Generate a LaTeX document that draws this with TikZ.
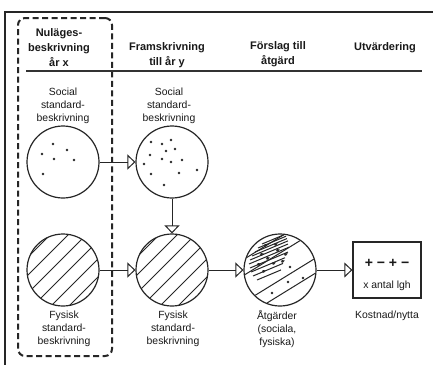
\documentclass[tikz,border=0pt]{standalone}
\usepackage{fontspec}
\setmainfont{Liberation Sans}
\usetikzlibrary{arrows.meta,calc}

\tikzset{
  frameline/.style={line width=1.4pt, draw=black!85},
  rule/.style={line width=1.1pt, draw=black!80},
  groupbox/.style={draw=black!85, line width=2pt, dash pattern=on 6pt off 3.5pt,
    rounded corners=7pt, minimum width=94pt, minimum height=338pt, inner sep=0pt},
  disc/.style={circle, draw=black!85, line width=1.2pt, minimum size=72pt, inner sep=0pt},
  hatched/.style={path picture={
    \foreach \k in {-45,-36,...,45} {
      \draw[line width=0.9pt, black!85]
        ($(path picture bounding box.center)+(\k+3,\k+3)+(-60,60)$) -- ++(120,-120);
    }}},
  conn/.style={line width=1pt, draw=black!85,
    -{Triangle[open, length=8pt, width=15pt, line width=1pt]}},
  costbox/.style={draw=black!85, line width=1.3pt, minimum width=68pt, minimum height=56pt, inner sep=0pt},
  head/.style={align=center, font=\bfseries\fontsize{11}{15}\selectfont, text=black!90},
  label/.style={align=center, font=\fontsize{10.4}{13}\selectfont, text=black!90},
  dot/.style={fill=black!85},
  stroke/.style={line width=1pt, draw=black!85},
  flow/.style={line width=0.9pt, draw=black!85, -{Latex[length=3.2pt, width=3.4pt]}},
}

\begin{document}
\begin{tikzpicture}[x=1pt, y=-1pt]
  \useasboundingbox[fill=white] (0,0) rectangle (433,365);

  % outer frame (top and left edges)
  \draw[frameline] (433,12) -- (5,12) -- (5,365);

  % dashed group around the first column
  \node[groupbox] (cur) at (65,187) {};

  % column headings
  \node[head] (h1) at (59,48) {Nuläges-\\beskrivning\\år x};
  \node[head] (h2) at (167,55) {Framskrivning\\till år y};
  \node[head] (h3) at (278,54.5) {Förslag till\\åtgärd};
  \node[head] (h4) at (385,48) {Utvärdering};
  \coordinate (rl) at (26,71);
  \coordinate (rr) at (422,71);
  \draw[rule] (rl) -- (rr);

  % social description
  \node[label] (ls1) at (63,106) {Social\\standard-\\beskrivning};
  \node[label] (ls2) at (169,106) {Social\\standard-\\beskrivning};
  \node[disc] (s1) at (63,162) {};
  \node[disc] (s2) at (172,162) {};

  \foreach \p in {(53,144),(67,150),(42,154),(54,159),(74,160),(43,174)}
    \fill[dot] \p circle (1.3pt);
  \foreach \p in {(151,142),(162,144),(171,140),(166,151),(175,149),(150,155),
                  (162,159),(171,162),(182,160),(144,164),(151,174),(179,173),
                  (197,170),(164,185)}
    \fill[dot] \p circle (1.3pt);

  % physical description
  \node[disc, hatched] (f1) at (63,270) {};
  \node[disc, hatched] (f2) at (172,270) {};
  \node[label] (lf1) at (64,329) {Fysisk\\standard-\\beskrivning};
  \node[label] (lf2) at (173,329) {Fysisk\\standard-\\beskrivning};

  % measures: broad hatching, dense arrowed strokes, scattered dots
  \node[disc] (act) at (280,270) {};
  \begin{scope}
    \clip (act.center) circle (35.4pt);
    \foreach \d in {-33,-17,10,25}
      \draw[stroke] ($(act.center)+(-60,37+\d)$) -- ++(120,-74);
    \foreach \x/\y/\l in {262/244/22, 258/248/28, 255/252/32, 252/256/36,
                          250/260/38, 249/264/40, 250/268/38, 251/272/34,
                          253/276/30, 257/280/24}
      \draw[stroke] (\x,\y) -- ++(\l,-0.42*\l);
    \foreach \x/\y in {264/246, 274/245, 260/255, 276/251, 266/259, 284/255,
                       257/265, 272/264, 262/272, 281/262}
      \draw[flow] (\x,\y) -- ++(4,-1.7);
    \foreach \p in {(290,267),(288,282),(303,278),(272,293)}
      \fill[dot] \p circle (1.3pt);
  \end{scope}
  \node[label] (la) at (277,329) {Åtgärder\\(sociala,\\fysiska)};

  % evaluation
  \node[costbox] (cb) at (387,270) {};
  \node[font=\bfseries\fontsize{14}{16}\selectfont, text=black!90] (pm) at (387,263) {+ − + −};
  \node[label] (xa) at (387,286) {x antal lgh};
  \node[label] (lk) at (387,316) {Kostnad/nytta};

  % connectors
  \draw[conn] (s1) -- (s2);
  \draw[conn] (s2) -- (f2);
  \draw[conn] (f1) -- (f2);
  \draw[conn] (f2) -- (act);
  \draw[conn] (act) -- (cb);
\end{tikzpicture}
\end{document}
